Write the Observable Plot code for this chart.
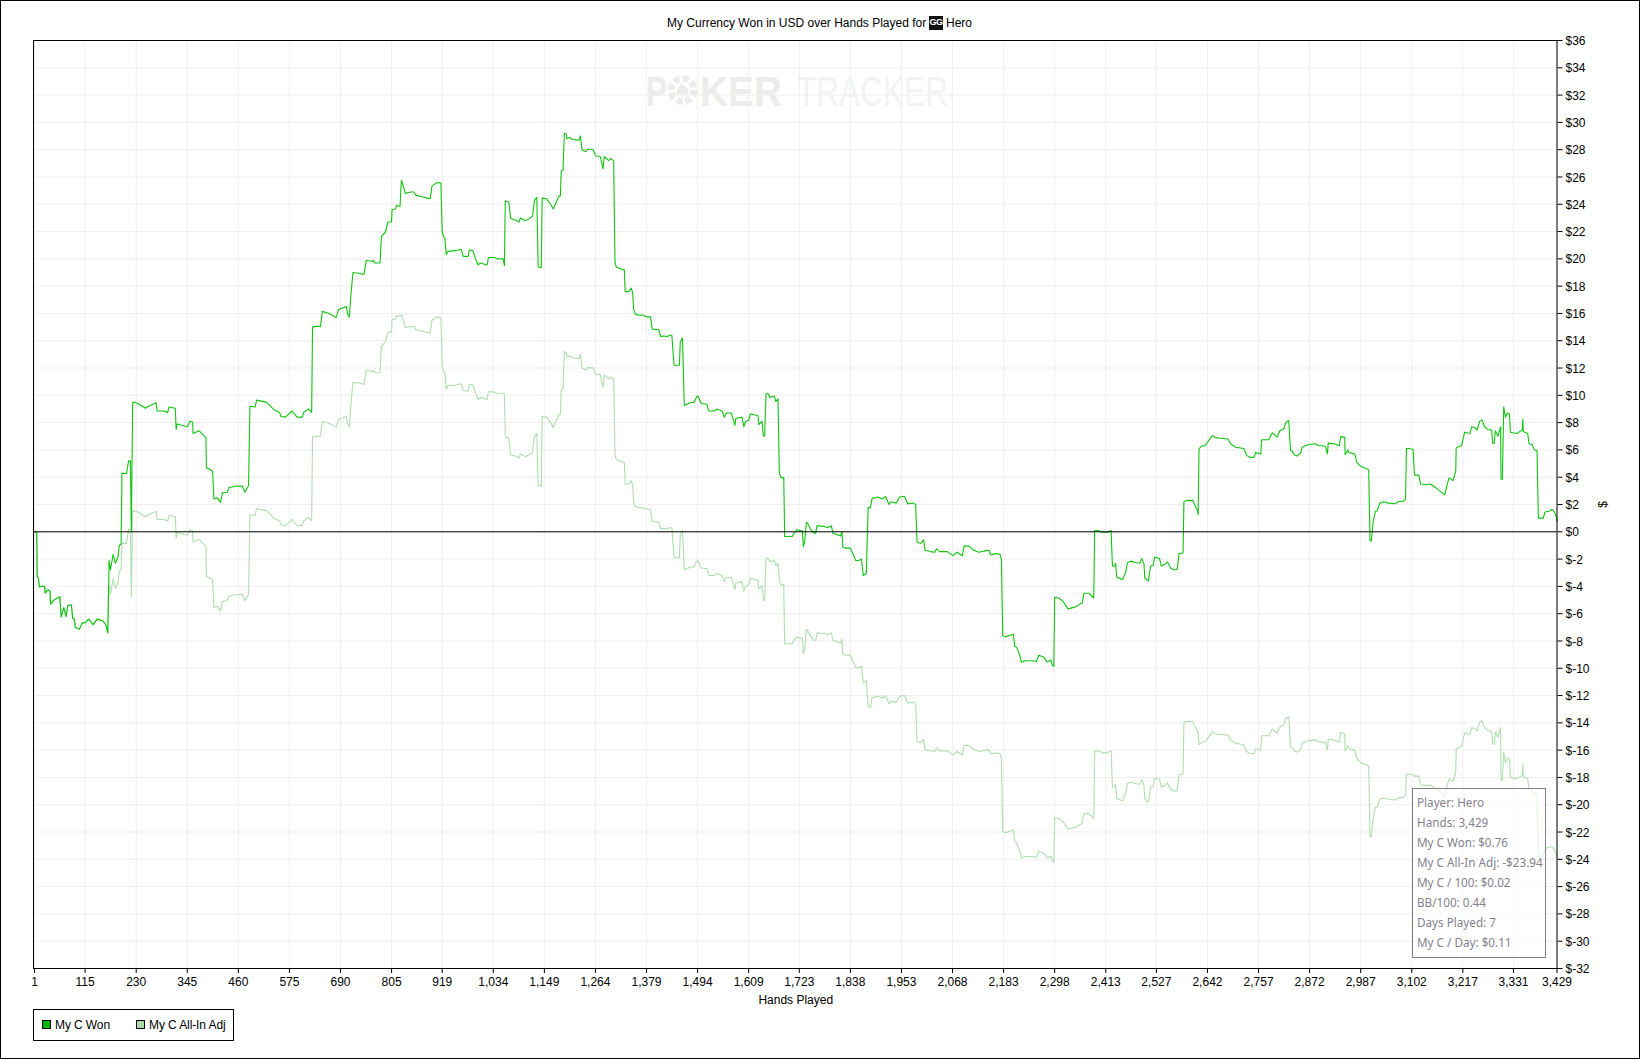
<!DOCTYPE html>
<html>
<head>
<meta charset="utf-8">
<title>My Currency Won</title>
<script src="https://cdn.jsdelivr.net/npm/d3@7"></script>
<script src="https://cdn.jsdelivr.net/npm/@observablehq/plot@0.6"></script>
<style>
html,body{margin:0;padding:0;background:#fff;overflow:hidden}
#page{position:relative;width:1640px;height:1059px;font-family:"Liberation Sans",Arial,sans-serif;font-size:12px;color:#000;overflow:hidden}
#page svg{display:block}
#edge{position:absolute;left:0;top:0;width:1638px;height:1057px;border:1px solid #000}
.abs{position:absolute;white-space:nowrap}
#gg{left:929px;top:16px;width:14px;height:14px;background:#111;color:#fff;font:bold 9px/13px "Liberation Sans";text-align:center;letter-spacing:-.5px}
#legend{left:33px;top:1009px;width:199px;height:30px;border:1px solid #000;background:#fff}
.sw{position:absolute;top:10px;width:7px;height:7px;border:1px solid #000}
.lt{position:absolute;top:8px;letter-spacing:-.1px}
#tip{left:1412px;top:788px;width:132px;height:168px;border:1px solid #808080;background:rgba(255,255,255,.66);color:#857f8e;font-family:"Noto Sans",sans-serif;font-size:11.7px}
#tip div{position:absolute;left:4px;white-space:nowrap;line-height:20px}
</style>
</head>
<body>
<div id="page">
  <div id="chart"></div>
  <div id="edge"></div>
  <div class="abs" style="left:667px;top:16px">My Currency Won in USD over Hands Played for</div>
  <div class="abs" id="gg">GG</div>
  <div class="abs" style="left:946px;top:16px">Hero</div>
  <div class="abs" id="tip"></div>
  <div class="abs" id="legend">
    <div class="sw" style="left:8px;background:#00b400"></div><div class="lt" style="left:21px">My C Won</div>
    <div class="sw" style="left:102px;background:#aad9aa"></div><div class="lt" style="left:115px">My C All-In Adj</div>
  </div>
</div>
<script>
const xTicks = [1,115,230,345,460,575,690,805,919,1034,1149,1264,1379,1494,1609,1723,1838,1953,2068,2183,2298,2413,2527,2642,2757,2872,2987,3102,3217,3331,3429];
const yTicks = [-32,-30,-28,-26,-24,-22,-20,-18,-16,-14,-12,-10,-8,-6,-4,-2,0,2,4,6,8,10,12,14,16,18,20,22,24,26,28,30,32,34,36];
const tipLines = ["Player: Hero","Hands: 3,429","My C Won: $0.76","My C All-In Adj: -$23.94","My C / 100: $0.02","BB/100: 0.44","Days Played: 7","My C / Day: $0.11"];

const hands = [
1,6,7,10,12,16,24,25,31,36,37,45,58,61,67,72,76,84,87,91,93,102,109,114,123,133,142,156,162,166,168,
169,172,178,183,189,192,196,198,208,213,217,219,222,
223,234,251,258,275,277,291,301,304,318,320,322,345,351,357,358,372,382,387,388,402,405,412,420,424,435,439,457,469,475,483,486,498,501,523,540,553,556,566,581,592,604,607,618,625,
627,634,645,649,664,680,686,703,706,710,713,718,731,743,748,761,764,767,779,782,791,797,805,806,814,816,824,
827,830,836,848,855,860,874,885,892,896,908,916,919,923,925,928,932,949,962,966,977,980,988,994,1000,1005,1020,1023,1035,1043,1056,1059,
1061,1069,1073,1084,1092,1095,1107,1122,1127,1132,
1135,1142,1144,1154,1163,1169,1182,1185,1187,1191,1194,1198,1200,1206,1212,1227,1230,1234,1242,1247,1259,1264,1275,1281,1284,1294,1298,1305,
1308,1311,1326,1329,1331,1339,1345,1348,1350,1354,1365,1369,1379,1388,1392,1407,1411,1417,1426,1430,1436,1441,1453,1455,1460,
1464,1477,1486,1492,1495,1502,1515,1519,1532,1537,1549,1554,1559,1570,1578,1580,1594,1598,1602,1609,1613,1630,1632,1639,1642,1645,1648,1652,1657,1667,1670,1675,
1678,1681,1685,1688,1690,1707,1712,1717,1730,1732,1735,1739,1742,1748,1756,1760,1763,1778,1787,1795,1799,1816,1819,1821,1827,1838,1844,1850,1857,1863,1867,1874,
1878,1883,1887,1900,1910,1917,1925,1930,1941,1949,1960,1967,1980,1985,1988,1996,2003,2006,2018,2028,2032,2039,2056,2069,2078,2090,2094,2105,2116,2127,2142,2150,2154,2165,2175,2178,
2181,2187,2205,2208,2212,2218,2223,2232,2247,2257,2262,2274,2281,2289,2293,2296,
2298,2307,2317,2328,2345,2360,2364,2375,2386,2388,2397,2405,2416,2422,2425,
2428,2434,2435,2438,2447,2451,2458,2462,2469,2480,2490,2494,2499,2501,2509,2514,2520,2523,2534,2538,2548,2552,2559,2567,2574,2578,2587,2589,2595,2609,2615,2618,2621,
2623,2630,2636,2643,2653,2660,2671,2688,2694,2705,2724,2730,2738,2747,2750,2762,2764,2780,2788,2799,2805,2814,2818,2825,2829,2833,2837,2844,2852,2855,2870,2885,2893,2900,2908,2912,2914,2927,2939,2942,2951,2952,2958,2961,2974,2978,2987,3002,3005,3008,3011,3015,3020,3024,3030,3039,3050,3065,3071,3083,3088,
3090,3095,3105,
3108,3118,3122,3133,3144,3159,3176,3182,3186,3195,3201,3202,3208,3214,3221,3233,3237,3246,3249,3255,3260,3266,3273,3282,3284,3288,3290,3296,3302,3303,3306,
3309,3313,3317,3322,3324,3338,3351,3352,3353,3363,3366,3373,3378,3384,
3387,3398,3402,3411,3418,3423,3427,3429
];
const won = [
0,-0.05,-3.3,-3.4,-4.05,-4,-4,-4.5,-4.25,-4.35,-5.3,-5,-4.75,-6.25,-5.55,-6.2,-5.4,-5.35,-6.35,-6.4,-7,-7.15,-6.65,-6.7,-6.4,-6.8,-6.4,-6.55,-6.85,-7.4,-3.8,
-2.1,-2.8,-1.65,-2.3,-1.85,-1,-0.9,4.3,4.25,5.2,5.2,0.1,9.45,
9.5,9.4,9.05,9.2,9.45,8.85,8.85,8.75,9.15,9.05,7.5,7.9,7.7,8.1,8.05,7.2,7.4,7.05,6.9,4.7,4.45,2.4,2.5,2.15,2.85,2.9,3.25,3.35,3.35,2.9,3.4,9.2,9.15,9.65,9.5,8.95,8.75,8.45,8.4,8.85,8.4,8.4,8.75,9,8.75,
15,15.05,15.05,16.15,16,15.7,16.3,16.5,15.95,15.75,17.2,19,18.95,18.85,19.9,19.8,19.9,19.7,19.7,21.65,21.95,22.7,22.7,23.6,23.65,23.9,23.85,
25.75,25.5,24.8,24.9,24.9,24.65,24.55,24.45,24.4,25.35,25.6,25.55,21.95,21.55,21.55,20.3,20.55,20.6,20.7,20.2,20.15,20.65,20.6,20,19.55,19.7,19.55,20.1,20.1,20,20,19.5,
24.25,24.15,22.95,22.85,22.7,23,22.8,23.1,24.3,24.5,
19.4,19.35,24.45,24.4,24,23.65,24.6,24.6,26.45,26.5,29.2,29.15,28.8,28.9,28.75,28.7,29,28,27.85,28.05,28,27.55,27.5,26.6,27.5,27.2,27.35,27.2,
19.75,19.4,19.2,19.2,17.6,17.6,17.85,17.45,16.3,15.95,15.85,15.9,15.75,15.75,14.85,14.8,14.3,14.35,14.3,14.4,14.4,12.2,12.2,13.9,14.2,
9.25,9.45,9.5,9.9,9.95,9.4,9.35,8.85,8.85,9,8.85,8.4,8.7,8.7,7.8,8.3,8.4,7.7,8.1,8.15,8.65,8.5,7.85,8.1,7.05,7,10.1,10.15,9.85,9.95,9.55,9.75,
4.35,4,3.95,4,-0.35,-0.35,-0.05,0.15,0.05,-1.1,-0.75,0.7,0.6,0.2,-0.1,-0.1,0.45,0.4,0.3,0.45,-0.1,-0.3,0,-1.1,-1.2,-1.2,-1.65,-2.1,-2.1,-2,-3.2,-3.05,
1.8,1.75,2.45,2.55,2.4,2.6,2,2.2,2.1,2.55,2.6,2.05,2.1,2,-0.75,-0.85,-0.6,-1.35,-1.45,-1.5,-1.25,-1.45,-1.45,-1.75,-1.5,-1.75,-1.05,-1.05,-1.35,-1.5,-1.4,-1.35,-1.7,-1.6,-1.65,-2,
-7.6,-7.7,-7.5,-8.4,-8.45,-8.9,-9.55,-9.45,-9.45,-9.5,-9.05,-9.2,-9.55,-9.4,-9.8,-9.85,
-4.8,-4.85,-5.1,-5.65,-5.5,-5.2,-4.5,-4.5,-4.85,0.1,0.1,-0.05,-0.05,0.05,0.1,
-2.5,-2.5,-2.3,-3.35,-3.45,-3.5,-2.95,-2.25,-2.15,-2.25,-2.3,-1.95,-2.35,-3.4,-3.6,-2.5,-2.45,-1.85,-1.95,-2.5,-2.35,-2.2,-2.65,-2.8,-2.75,-1.6,-1.55,2.2,2.3,2.3,1.85,1.7,1.25,
6.1,6.3,6.3,6.6,7.05,6.9,6.85,6.8,6.45,6.2,6.1,5.6,5.45,5.45,5.8,5.7,6.75,6.75,7.25,6.95,7.4,7.55,8,8.15,5.95,5.9,5.65,5.55,5.8,6.2,6.4,6.45,6.3,6.3,6.25,5.7,6.5,6.45,6.3,7,6.9,5.65,6,5.8,5.7,5.1,4.8,4.6,4.55,-0.65,-0.65,0.7,1.5,1.5,2.1,2.2,2.1,2.05,2.2,2.25,2.4,
6.1,6.1,6.05,
4.15,4.15,3.5,3.45,3.5,3.15,2.7,3.5,3.95,3.75,4.45,6.15,6.25,6.3,7.3,7.2,7.7,7.6,7.45,8.1,8.2,7.7,7.5,7.45,6.5,6.5,7.4,7,7.7,3.85,3.85,
9.15,8.4,8.7,8.65,7.3,7.2,7.45,8.25,7.35,7.2,6.45,6.4,6,5.95,
1,1,1.45,1.5,1.65,1.45,1.2,0.76
];
const adj = [
0,-0.05,-3.3,-3.4,-4.05,-4,-4,-4.5,-4.25,-4.35,-5.3,-5,-4.75,-6.25,-5.55,-6.2,-5.4,-5.35,-6.35,-6.4,-7,-7.15,-6.65,-6.7,-6.4,-6.8,-6.4,-6.55,-6.85,-7.4,-3.8,
-3.9,-4.6,-3.45,-4.15,-3.75,-2.85,-2.8,-0.85,-0.85,0.2,0.15,-4.8,1.55,
1.55,1.45,1.1,1.25,1.5,0.9,0.9,0.8,1.2,1.1,-0.45,-0.05,-0.25,0.15,0.1,-0.75,-0.55,-0.9,-1.05,-3.25,-3.5,-5.55,-5.45,-5.8,-5.1,-5.05,-4.7,-4.6,-4.6,-5.05,-4.55,1.25,1.2,1.7,1.55,1,0.8,0.5,0.45,0.9,0.45,0.45,0.8,1.05,0.8,
6.95,7,7,8.1,7.95,7.65,8.25,8.45,7.9,7.7,9.15,10.95,10.9,10.8,11.85,11.75,11.85,11.65,11.65,13.6,13.9,14.65,14.65,15.55,15.6,15.85,15.8,
15.9,15.65,14.95,15.05,15.05,14.8,14.7,14.6,14.55,15.5,15.75,15.7,12.1,11.7,11.7,10.45,10.7,10.75,10.85,10.35,10.3,10.8,10.75,10.15,9.7,9.85,9.7,10.25,10.25,10.15,10.15,10.1,
6.95,6.85,5.65,5.55,5.4,5.7,5.5,5.8,7,7.2,
3.4,3.35,8.45,8.4,8,7.65,8.6,8.6,10.45,10.5,13.2,13.15,12.8,12.9,12.75,12.7,13,12,11.85,12.05,12,11.55,11.5,10.6,11.5,11.2,11.35,11.2,
5.65,5.3,5.1,5.1,3.5,3.5,3.75,3.35,2.2,1.85,1.75,1.8,1.65,1.65,0.75,0.7,0.2,0.25,0.2,0.3,0.3,-1.9,-1.9,-0.2,0.1,
-2.8,-2.6,-2.55,-2.15,-2.1,-2.65,-2.7,-3.2,-3.2,-3.05,-3.2,-3.65,-3.35,-3.35,-4.25,-3.75,-3.65,-4.35,-3.95,-3.9,-3.4,-3.55,-4.2,-3.95,-5,-5.05,-1.95,-1.9,-2.2,-2.1,-2.5,-2.3,
-3.5,-3.85,-3.9,-3.85,-8.2,-8.2,-7.9,-7.7,-7.8,-8.95,-8.6,-7.15,-7.25,-7.65,-7.95,-7.95,-7.4,-7.45,-7.55,-7.4,-7.95,-8.15,-7.85,-8.95,-9.05,-9.05,-9.5,-9.95,-9.95,-9.85,-11.05,-10.9,
-12.8,-12.85,-12.15,-12.05,-12.2,-12,-12.6,-12.4,-12.5,-12.05,-12,-12.55,-12.5,-12.6,-15.35,-15.45,-15.2,-15.95,-16.05,-16.1,-15.85,-16.05,-16.05,-16.35,-16.1,-16.35,-15.65,-15.65,-15.95,-16.1,-16,-15.95,-16.3,-16.2,-16.25,-16.6,
-21.95,-22.05,-21.85,-22.75,-22.8,-23.25,-23.9,-23.8,-23.8,-23.85,-23.4,-23.55,-23.9,-23.75,-24.15,-24.2,
-20.95,-21,-21.25,-21.8,-21.65,-21.35,-20.65,-20.65,-21,-16.05,-16.05,-16.2,-16.2,-16.1,-16.05,
-18.7,-18.7,-18.5,-19.55,-19.65,-19.7,-19.15,-18.45,-18.35,-18.45,-18.5,-18.15,-18.55,-19.6,-19.8,-18.7,-18.65,-18.05,-18.15,-18.7,-18.55,-18.4,-18.85,-19,-18.95,-17.8,-17.75,-14,-13.9,-13.9,-14.35,-14.5,-14.7,
-15.6,-15.4,-15.4,-15.1,-14.65,-14.8,-14.85,-14.9,-15.25,-15.5,-15.6,-16.1,-16.25,-16.25,-15.9,-16,-14.95,-14.95,-14.45,-14.75,-14.3,-14.15,-13.7,-13.55,-15.75,-15.8,-16.05,-16.15,-15.9,-15.5,-15.3,-15.25,-15.4,-15.4,-15.45,-16,-15.2,-15.25,-15.4,-14.7,-14.8,-16.05,-15.7,-15.9,-16,-16.6,-16.9,-17.1,-17.15,-22.35,-22.35,-21,-20.2,-20.2,-19.6,-19.5,-19.6,-19.65,-19.5,-19.45,-19.3,
-17.75,-17.75,-17.8,
-17.9,-17.9,-18.55,-18.6,-18.55,-18.9,-19.35,-18.55,-18.1,-18.3,-17.6,-15.9,-15.8,-15.75,-14.75,-14.85,-14.35,-14.45,-14.6,-13.95,-13.85,-14.35,-14.55,-14.6,-15.55,-15.55,-14.65,-15.05,-14.35,-18.2,-18.2,
-16.15,-16.9,-16.6,-16.65,-18,-18.1,-17.85,-17.05,-17.95,-18.1,-18.85,-18.9,-19.3,-19.35,
-23.85,-23.7,-23.25,-23.1,-23.1,-23.3,-23.55,-23.94
];

// pale PokerTracker watermark, drawn underneath the grid
function watermark() {
  const g = d3.create("svg:g").attr("font-family", "Liberation Sans").attr("font-size", 43).attr("text-anchor", "start");
  const word = (s, x, w, fill, weight) => g.append("text").text(s).attr("x", x).attr("y", 106)
    .attr("fill", fill).attr("font-weight", weight)
    .attr("textLength", w).attr("lengthAdjust", "spacingAndGlyphs");
  word("P", 646, 21, "#ececec", "bold");
  g.append("circle").attr("cx", 682.5).attr("cy", 90).attr("r", 11.5).attr("fill", "none")
    .attr("stroke", "#ececec").attr("stroke-width", 7).attr("stroke-dasharray", "6 3");
  g.append("text").text("♠").attr("x", 682.5).attr("y", 97).attr("text-anchor", "middle")
    .attr("font-size", 20).attr("fill", "#ececec").attr("font-family", "DejaVu Sans");
  word("KER", 700, 82, "#ececec", "bold");
  word("TRACKER", 797, 151, "#f3f3f3", "normal");
  return g.node();
}

const gridColor = "#efefef";
const plot = Plot.plot({
  width: 1640,
  height: 1059,
  marginLeft: 34,
  marginRight: 83.5,
  marginTop: 40,
  marginBottom: 91,
  style: {fontFamily: "Liberation Sans", fontSize: "12px", background: "#fff", color: "#000"},
  x: {domain: [1, 3429]},
  y: {domain: [-32, 36]},
  marks: [
    watermark,
    Plot.gridX(xTicks, {stroke: gridColor, strokeOpacity: 1, strokeWidth: 1}),
    Plot.gridY(yTicks, {stroke: gridColor, strokeOpacity: 1, strokeWidth: 1}),
    Plot.line(hands, {x: d => d, y: (d, i) => adj[i], stroke: "#aedfae", strokeWidth: 1.1, curve: "linear"}),
    Plot.line(hands, {x: d => d, y: (d, i) => won[i], stroke: "#10c410", strokeWidth: 1.1, curve: "linear"}),
    Plot.ruleY([0], {stroke: "#000", strokeWidth: 1}),
    Plot.frame({stroke: "#000", strokeWidth: 1, insetLeft: -1}),
    Plot.axisX({ticks: xTicks, tickFormat: d3.format(","), tickSize: 5, tickPadding: 3.5,
      label: "Hands Played", labelAnchor: "center", labelArrow: "none", labelOffset: 35, fontSize: 12, stroke: "#000"}),
    Plot.axisY({anchor: "right", ticks: yTicks, tickFormat: null, text: null, tickSize: 5, label: null, stroke: "#000"}),
    Plot.axisY({anchor: "right", ticks: yTicks, tickFormat: d => "$" + d, tickSize: 0, tickPadding: 8.5, dy: 0.7,
      label: "$", labelAnchor: "center", labelArrow: "none", labelOffset: 50, fontSize: 12})
  ]
});
document.getElementById("chart").append(plot);

const tip = document.getElementById("tip");
tipLines.forEach((t, i) => {
  const d = document.createElement("div");
  d.textContent = t;
  d.style.top = (3 + i * 20) + "px";
  tip.append(d);
});
</script>
</body>
</html>
